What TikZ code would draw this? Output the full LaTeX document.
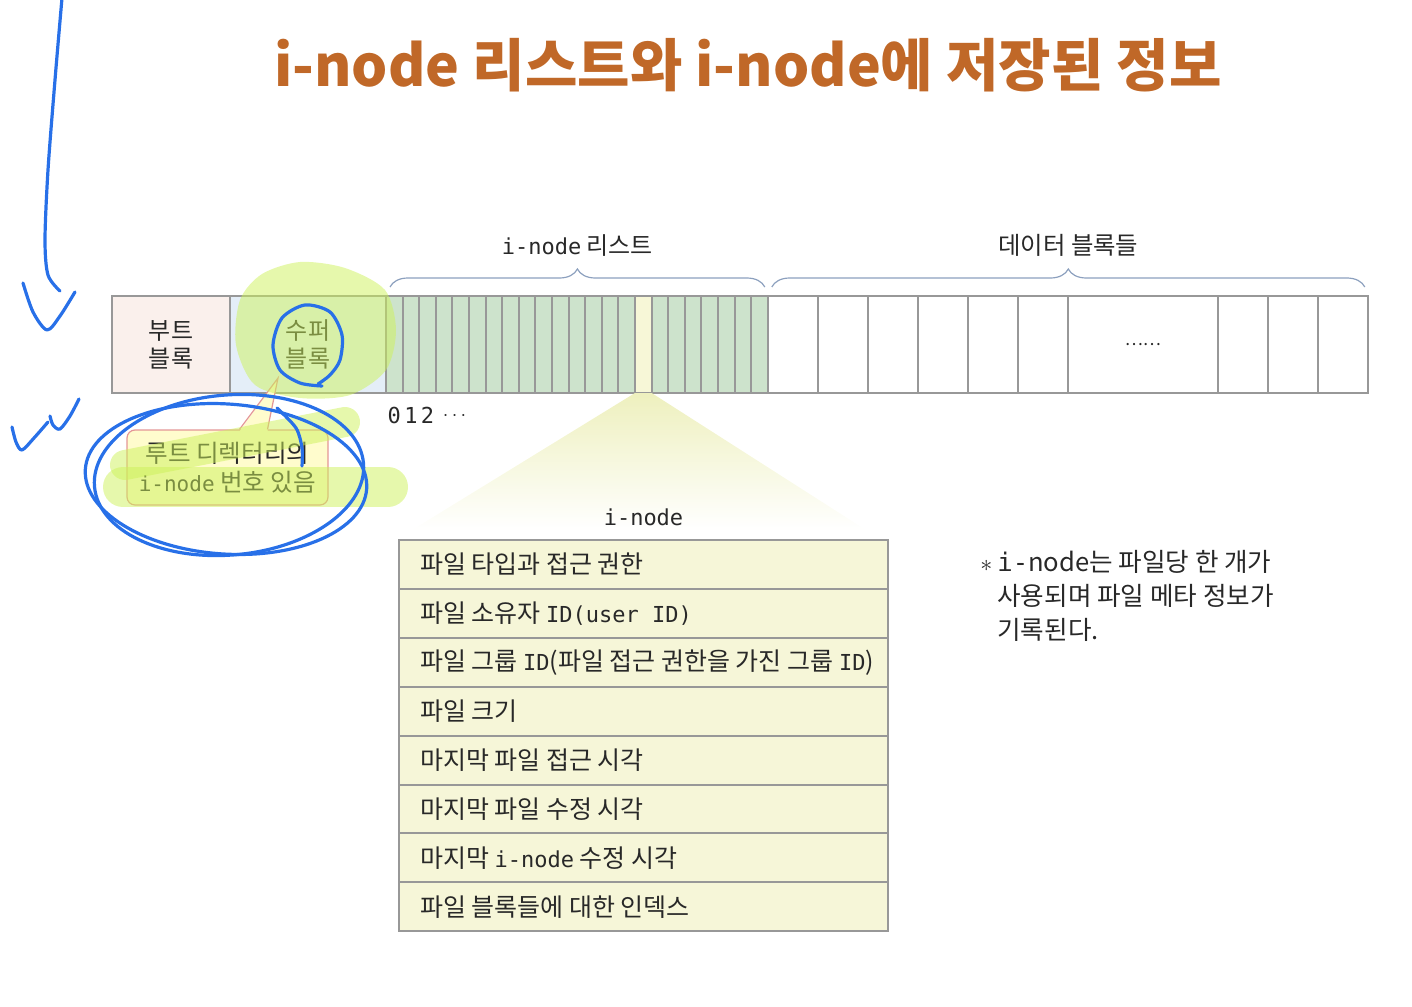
\documentclass[tikz,border=0pt]{standalone}
\usepackage{fontspec}
\setmainfont{Noto Sans CJK KR}
\setmonofont{DejaVu Sans Mono}
\usetikzlibrary{positioning, calc, decorations.pathreplacing}

\definecolor{titlecol}{RGB}{192,104,40}
\definecolor{textcol}{RGB}{40,40,40}
\definecolor{gridgray}{RGB}{152,152,152}
\definecolor{bootfill}{RGB}{250,240,236}
\definecolor{superfill}{RGB}{228,238,248}
\definecolor{cellgreen}{RGB}{205,227,204}
\definecolor{cellyellow}{RGB}{247,247,215}
\definecolor{fieldfill}{RGB}{246,246,216}
\definecolor{trapcol}{RGB}{238,240,190}
\definecolor{bracecol}{RGB}{140,160,190}
\definecolor{callfill}{RGB}{255,252,205}
\definecolor{callline}{RGB}{228,150,150}
\definecolor{hilite}{RGB}{205,242,90}
\definecolor{penblue}{RGB}{40,112,232}

\newcommand{\fieldtext}[1]{\makebox[223.5pt][l]{#1}}

\begin{document}
\begin{tikzpicture}[
		x=0.5pt, y=-0.5pt,
		blk/.style={rectangle, draw=gridgray, line width=1pt, minimum height=48.5pt, inner sep=0pt, outer sep=0pt, align=center, text=textcol, font=\fontsize{12}{14}\selectfont},
		icell/.style={blk, minimum width=8.3pt, fill=cellgreen},
		dcell/.style={blk, minimum width=25pt, fill=white},
		span/.style={decorate, decoration={brace, amplitude=9pt, raise=4.5pt}, draw=bracecol, line width=0.6pt},
		field/.style={rectangle, draw=gridgray, line width=1pt, fill=fieldfill, minimum height=24.45pt, inner xsep=10.5pt, inner ysep=0pt, outer sep=0pt, text=textcol, font=\fontsize{12.5}{14}\selectfont},
		callout/.style={rectangle, rounded corners=4pt, draw=callline, fill=callfill, line width=0.6pt, minimum width=100.5pt, minimum height=37.5pt, align=center, text=textcol, font=\fontsize{12.3}{14.5}\selectfont},
		pen/.style={draw=penblue, line width=1.6pt, line cap=round, line join=round},
		marker/.style={draw=hilite, opacity=0.5, line cap=round}
		]
		\useasboundingbox (0,0) rectangle (1412,1006);
		
		% Title
		\node[font=\fontsize{28.5}{32}\selectfont\bfseries, text=titlecol] (title) at (748,65) {i-node 리스트와 i-node에 저장된 정보};
		
		% Disk layout
		\node[blk, minimum width=59pt, fill=bootfill] (boot) at (171,344.5) {부트\\블록};
		\node[blk, minimum width=78pt, fill=superfill, right=0pt of boot, alias=ic0] (super) {수퍼\\블록};
		\foreach \i [remember=\i as \j (initially 0)] in {1,...,23}
			\node[icell, right=0pt of ic\j] (ic\i) {};
		\node[icell, fill=cellyellow] (ihit) at (ic16) {};
		\node[dcell, right=0pt of ic23] (dc1) {};
		\foreach \i [remember=\i as \j (initially 1)] in {2,...,6}
			\node[dcell, right=0pt of dc\j] (dc\i) {};
		\node[dcell, minimum width=75pt, right=0pt of dc6, font=\fontsize{8.5}{8.5}\selectfont] (dots) {……};
		\node[dcell, right=0pt of dots] (dc7) {};
		\foreach \i [remember=\i as \j (initially 7)] in {8,9}
			\node[dcell, right=0pt of dc\j] (dc\i) {};
		
		% Braces
		\draw[span] ([xshift=2pt]ic1.north west) -- node[above=16pt, text=textcol, font=\fontsize{12}{14}\selectfont] {{\ttfamily\fontsize{11}{14}\selectfont i-node} 리스트} ([xshift=-1.5pt]ic23.north east);
		\draw[span] ([xshift=2pt]dc1.north west) -- node[above=16pt, text=textcol, font=\fontsize{12.2}{14}\selectfont] {데이터 블록들} ([xshift=-1.5pt]dc9.north east);
		
		% Index numbers
		\foreach \i/\t in {1/0, 2/1, 3/2}
			\node[below=7pt of ic\i, inner sep=0pt, text=textcol, font=\ttfamily\fontsize{11}{11}\selectfont] (idx\i) {\t};
		\node[right=4pt of idx3, inner sep=0pt, text=textcol] (idxdots) {$\cdots$};
		
		% Callout
		\node[callout] (root) at (227.5,467.5) {루트 디렉터리의\\{\ttfamily\fontsize{10.5}{14.5}\selectfont i-node} 번호 있음};
		\coordinate (tip) at ($(super.center)+(-30,33.5)$);
		\fill[callfill] ([xshift=6pt,yshift=-1pt]root.north) -- (tip) -- ([xshift=20pt,yshift=-1pt]root.north) -- cycle;
		\draw[callline, line width=0.6pt] ([xshift=6pt]root.north) -- (tip) -- ([xshift=20pt]root.north);
		
		% i-node fields
		\node[field] (f1) at (643.5,564.5) {\fieldtext{파일 타입과 접근 권한}};
		\foreach \t [count=\i from 2, remember=\i as \j (initially 1)] in {
			{파일 소유자 {\ttfamily\fontsize{11}{14}\selectfont ID(user ID)}},
			{파일 그룹 {\ttfamily\fontsize{11}{14}\selectfont ID}(파일 접근 권한을 가진 그룹 {\ttfamily\fontsize{11}{14}\selectfont ID})},
			{파일 크기},
			{마지막 파일 접근 시각},
			{마지막 파일 수정 시각},
			{마지막 {\ttfamily\fontsize{11}{14}\selectfont i-node} 수정 시각},
			{파일 블록들에 대한 인덱스}}
			\node[field, below=0pt of f\j] (f\i) {\fieldtext{\t}};
		\shade[top color=trapcol, bottom color=white] (ihit.south west) -- (ihit.south east) -- ($(f1.north east)+(-22,-10)$) -- ($(f1.north west)+(13,-10)$) -- cycle;
		\node[above=3.5pt of f1, text=textcol, font=\ttfamily\fontsize{11}{13}\selectfont] (ilabel) {i-node};
		
		% Note
		\node[anchor=north west, align=left, inner sep=0pt, text=textcol, font=\fontsize{12.8}{16.9}\selectfont] (note) at (997,550) {\llap{$\ast$\hspace{2.5pt}}{\ttfamily i-}node는 파일당 한 개가\\사용되며 파일 메타 정보가\\기록된다.};
		
		% Highlighter
		\fill[hilite, opacity=0.5] plot[smooth cycle] coordinates {(240,300) (262,274) (300,262) (345,268) (385,290) (396,330) (386,370) (350,395) (300,398) (255,385) (236,345)};
		\draw[marker, line width=15pt] (125,465) -- (345,422);
		\draw[marker, line width=20pt] (123,487) -- (388,487);
		
		% Pen strokes
		\draw[pen] plot[smooth] coordinates {(62,-2) (55,80) (48,170) (45,240) (48,275) (60,291)};
		\draw[pen] plot[smooth] coordinates {(23,283) (33,312) (47,330) (60,316) (75,292)};
		\draw[pen] plot[smooth] coordinates {(12,427) (16,442) (22,450) (34,438) (48,422)};
		\draw[pen] plot[smooth] coordinates {(50,416) (53,425) (60,429) (70,416) (79,399)};
		\draw[pen] plot[smooth] coordinates {(322,386) (300,383) (280,370) (273,345) (282,318) (305,305) (330,312) (342,335) (340,360) (330,375) (318,384)};
		\draw[pen, rotate around={-4:(226,479)}] (226,479) ellipse [x radius=141, y radius=75];
		\draw[pen, rotate around={5:(229,475)}] (229,475) ellipse [x radius=135, y radius=80];
		\draw[pen] plot[smooth] coordinates {(277,408) (296,428) (302,448) (302,466)};
	\end{tikzpicture}
\end{document}
